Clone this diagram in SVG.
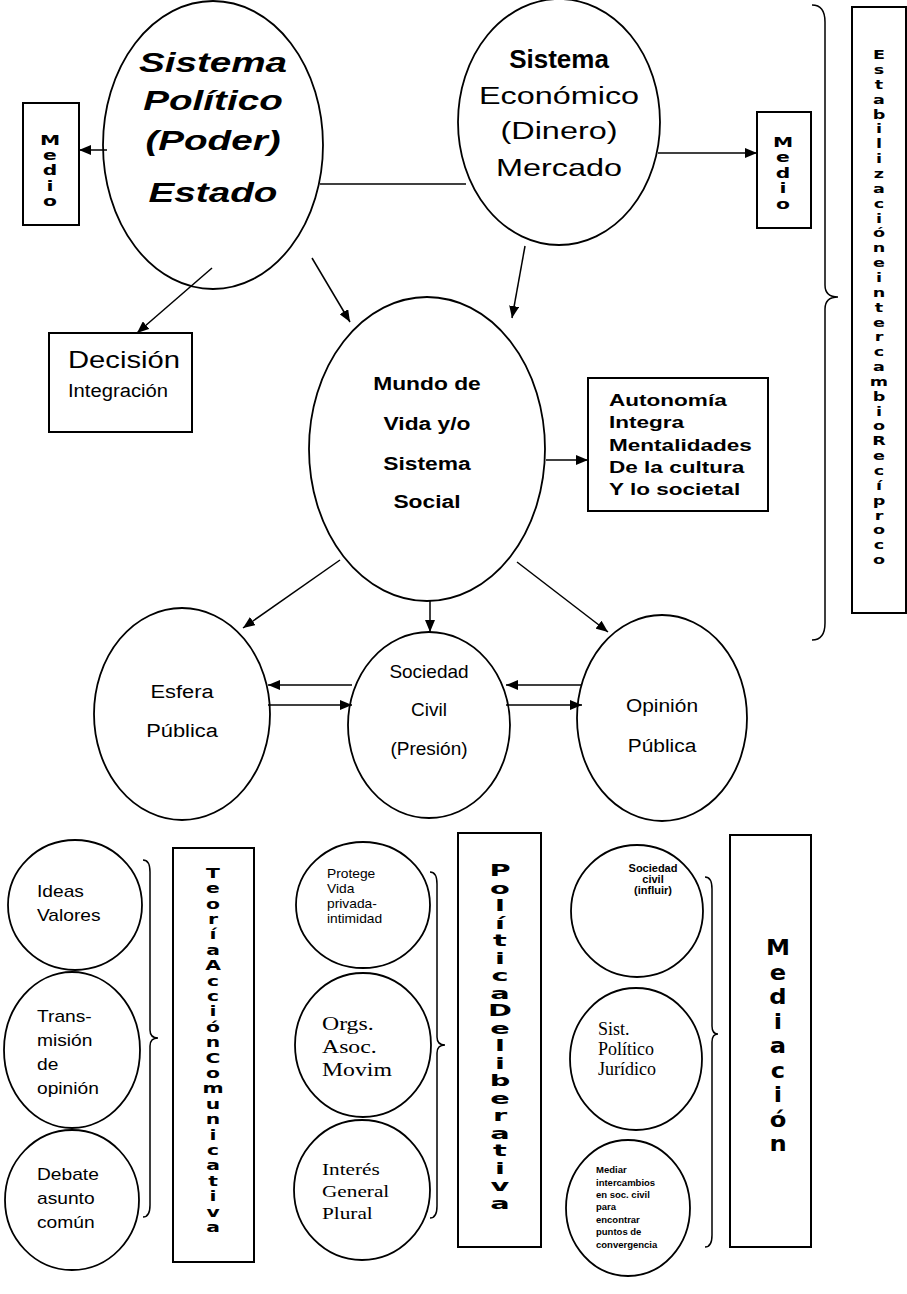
<svg xmlns="http://www.w3.org/2000/svg" width="907" height="1294" viewBox="0 0 907 1294">
<style>
.shape{fill:none;stroke:#000;stroke-width:1.8}
.box{fill:#fff;stroke:#000;stroke-width:2}
.con{fill:none;stroke:#000;stroke-width:1.5}
.brace{fill:none;stroke:#000;stroke-width:1.5}
.sans{font-family:"Liberation Sans",Arial,sans-serif;fill:#000}
.serif{font-family:"Liberation Serif","Times New Roman",serif;fill:#000}
.stack{font-family:"DejaVu Sans","Liberation Sans",Arial,sans-serif;font-weight:bold;fill:#000;text-anchor:middle;dominant-baseline:central}
</style>
<defs>
<marker id="ah" viewBox="0 0 12 10" refX="12" refY="5" markerWidth="12" markerHeight="10" orient="auto" markerUnits="userSpaceOnUse">
<path d="M0,0 L12,5 L0,10 z" fill="#000"/>
</marker>
</defs>
<rect width="907" height="1294" fill="#fff"/>

<g id="connectors">
<line class="con" x1="107" y1="150" x2="79" y2="150" marker-end="url(#ah)"/>
<line class="con" x1="658" y1="153" x2="757" y2="153" marker-end="url(#ah)"/>
<line class="con" x1="320" y1="184" x2="466" y2="184"/>
<line class="con" x1="212" y1="268" x2="137" y2="333" marker-end="url(#ah)"/>
<line class="con" x1="312" y1="258" x2="350" y2="322" marker-end="url(#ah)"/>
<line class="con" x1="525" y1="246" x2="512" y2="318" marker-end="url(#ah)"/>
<line class="con" x1="546" y1="460" x2="588" y2="460" marker-end="url(#ah)"/>
<line class="con" x1="340" y1="560" x2="243" y2="628" marker-end="url(#ah)"/>
<line class="con" x1="430" y1="600" x2="430" y2="632" marker-end="url(#ah)"/>
<line class="con" x1="517" y1="562" x2="608" y2="632" marker-end="url(#ah)"/>
<line class="con" x1="352" y1="685" x2="268" y2="685" marker-end="url(#ah)"/>
<line class="con" x1="268" y1="705" x2="352" y2="705" marker-end="url(#ah)"/>
<line class="con" x1="582" y1="685" x2="506" y2="685" marker-end="url(#ah)"/>
<line class="con" x1="506" y1="705" x2="582" y2="705" marker-end="url(#ah)"/>
</g>

<g id="sistema-politico">
<ellipse class="shape" cx="213" cy="145" rx="110" ry="144"/>
<g transform="translate(213,0) scale(1.38,1) translate(-213,0)">
<text class="sans" text-anchor="middle" font-size="28" font-weight="bold" font-style="italic">
<tspan x="213" y="72">Sistema</tspan><tspan x="213" y="110">Político</tspan><tspan x="213" y="150">(Poder)</tspan><tspan x="213" y="202">Estado</tspan>
</text>
</g>
</g>

<g id="sistema-economico">
<ellipse class="shape" cx="559" cy="122" rx="101" ry="123"/>
<text class="sans" x="559" y="68" text-anchor="middle" font-size="26" font-weight="bold">Sistema</text>
<g transform="translate(559,0) scale(1.35,1) translate(-559,0)">
<text class="sans" text-anchor="middle" font-size="24">
<tspan x="559" y="104">Económico</tspan><tspan x="559" y="139">(Dinero)</tspan><tspan x="559" y="176">Mercado</tspan>
</text>
</g>
</g>

<g id="medio-izq">
<rect class="box" x="23" y="103" width="56" height="122"/>
<g transform="translate(50,0) scale(1.45,1) translate(-50,0)">
<text class="stack" font-size="14"><tspan x="50" y="140">M</tspan><tspan x="50" y="155">e</tspan><tspan x="50" y="170">d</tspan><tspan x="50" y="186">i</tspan><tspan x="50" y="201">o</tspan></text>
</g>
</g>

<g id="medio-der">
<rect class="box" x="757" y="112" width="54" height="116"/>
<g transform="translate(783,0) scale(1.45,1) translate(-783,0)">
<text class="stack" font-size="14"><tspan x="783" y="142">M</tspan><tspan x="783" y="157">e</tspan><tspan x="783" y="173">d</tspan><tspan x="783" y="188">i</tspan><tspan x="783" y="204">o</tspan></text>
</g>
</g>

<g id="estabilizacion">
<path class="brace" d="M812,5 Q825,5 825,22 L825,285 Q825,297 838,297 Q825,297 825,309 L825,623 Q825,640 812,640"/>
<rect class="box" x="852" y="7" width="54" height="606"/>
<g transform="translate(879,0) scale(1.35,1) translate(-879,0)">
<text class="stack" font-size="13"><tspan x="879" y="55">E</tspan><tspan x="879" y="69.85">s</tspan><tspan x="879" y="84.7">t</tspan><tspan x="879" y="99.55">a</tspan><tspan x="879" y="114.4">b</tspan><tspan x="879" y="129.25">i</tspan><tspan x="879" y="144.1">l</tspan><tspan x="879" y="158.95">i</tspan><tspan x="879" y="173.8">z</tspan><tspan x="879" y="188.65">a</tspan><tspan x="879" y="203.5">c</tspan><tspan x="879" y="218.35">i</tspan><tspan x="879" y="233.2">ó</tspan><tspan x="879" y="248.05">n</tspan><tspan x="879" y="262.9">e</tspan><tspan x="879" y="277.75">i</tspan><tspan x="879" y="292.6">n</tspan><tspan x="879" y="307.45">t</tspan><tspan x="879" y="322.3">e</tspan><tspan x="879" y="337.15">r</tspan><tspan x="879" y="352">c</tspan><tspan x="879" y="366.85">a</tspan><tspan x="879" y="381.7">m</tspan><tspan x="879" y="396.55">b</tspan><tspan x="879" y="411.4">i</tspan><tspan x="879" y="426.25">o</tspan><tspan x="879" y="441.1">R</tspan><tspan x="879" y="455.95">e</tspan><tspan x="879" y="470.8">c</tspan><tspan x="879" y="485.65">í</tspan><tspan x="879" y="500.5">p</tspan><tspan x="879" y="515.35">r</tspan><tspan x="879" y="530.2">o</tspan><tspan x="879" y="545.05">c</tspan><tspan x="879" y="559.9">o</tspan></text>
</g>
</g>

<g id="decision">
<rect class="box" x="49" y="333" width="143" height="99"/>
<text class="sans" x="68" y="368" font-size="24" textLength="112" lengthAdjust="spacingAndGlyphs">Decisión</text>
<text class="sans" x="68" y="397" font-size="18" textLength="100" lengthAdjust="spacingAndGlyphs">Integración</text>
</g>

<g id="mundo-de-vida">
<ellipse class="shape" cx="427" cy="449" rx="118" ry="152"/>
<g transform="translate(427,0) scale(1.2,1) translate(-427,0)">
<text class="sans" text-anchor="middle" font-size="19" font-weight="bold">
<tspan x="427" y="390">Mundo de</tspan><tspan x="427" y="430">Vida y/o</tspan><tspan x="427" y="470">Sistema</tspan><tspan x="427" y="508">Social</tspan>
</text>
</g>
</g>

<g id="autonomia">
<rect class="box" x="588" y="378" width="180" height="133"/>
<g transform="translate(609,0) scale(1.41,1) translate(-609,0)">
<text class="sans" font-size="16" font-weight="bold">
<tspan x="609" y="406">Autonomía</tspan><tspan x="609" y="428">Integra</tspan><tspan x="609" y="451">Mentalidades</tspan><tspan x="609" y="473">De la cultura</tspan><tspan x="609" y="495">Y lo societal</tspan>
</text>
</g>
</g>

<g id="esfera-publica">
<ellipse class="shape" cx="182" cy="714" rx="88" ry="106"/>
<g transform="translate(182,0) scale(1.15,1) translate(-182,0)">
<text class="sans" text-anchor="middle" font-size="19"><tspan x="182" y="698">Esfera</tspan><tspan x="182" y="737">Pública</tspan></text>
</g>
</g>

<g id="sociedad-civil">
<ellipse class="shape" cx="429" cy="725" rx="81" ry="93"/>
<text class="sans" text-anchor="middle" font-size="19"><tspan x="429" y="678">Sociedad</tspan><tspan x="429" y="716">Civil</tspan><tspan x="429" y="755">(Presión)</tspan></text>
</g>

<g id="opinion-publica">
<ellipse class="shape" cx="662" cy="718" rx="85" ry="103"/>
<g transform="translate(662,0) scale(1.1,1) translate(-662,0)">
<text class="sans" text-anchor="middle" font-size="19"><tspan x="662" y="712">Opinión</tspan><tspan x="662" y="752">Pública</tspan></text>
</g>
</g>

<g id="ideas-valores">
<ellipse class="shape" cx="75" cy="905" rx="67" ry="65"/>
<g transform="translate(37,0) scale(1.2,1) translate(-37,0)">
<text class="sans" font-size="16"><tspan x="37" y="897">Ideas</tspan><tspan x="37" y="921">Valores</tspan></text>
</g>
</g>
<g id="transmision">
<ellipse class="shape" cx="72" cy="1050" rx="68" ry="78"/>
<g transform="translate(37,0) scale(1.2,1) translate(-37,0)">
<text class="sans" font-size="16"><tspan x="37" y="1022">Trans-</tspan><tspan x="37" y="1046">misión</tspan><tspan x="37" y="1070">de</tspan><tspan x="37" y="1094">opinión</tspan></text>
</g>
</g>
<g id="debate">
<ellipse class="shape" cx="72" cy="1200" rx="67" ry="70"/>
<g transform="translate(37,0) scale(1.2,1) translate(-37,0)">
<text class="sans" font-size="16"><tspan x="37" y="1180">Debate</tspan><tspan x="37" y="1204">asunto</tspan><tspan x="37" y="1228">común</tspan></text>
</g>
</g>

<g id="teoria-accion">
<path class="brace" d="M143,860 Q150,860 150,872 L150,1030 Q150,1038 158,1038 Q150,1038 150,1046 L150,1205 Q150,1217 143,1217"/>
<rect class="box" x="173" y="848" width="81" height="414"/>
<g transform="translate(213,0) scale(1.45,1) translate(-213,0)">
<text class="stack" font-size="14"><tspan x="213" y="873">T</tspan><tspan x="213" y="888.4">e</tspan><tspan x="213" y="903.8">o</tspan><tspan x="213" y="919.2">r</tspan><tspan x="213" y="934.6">í</tspan><tspan x="213" y="950">a</tspan><tspan x="213" y="965.4">A</tspan><tspan x="213" y="980.8">c</tspan><tspan x="213" y="996.2">c</tspan><tspan x="213" y="1011.6">i</tspan><tspan x="213" y="1027">ó</tspan><tspan x="213" y="1042.4">n</tspan><tspan x="213" y="1057.8">C</tspan><tspan x="213" y="1073.2">o</tspan><tspan x="213" y="1088.6">m</tspan><tspan x="213" y="1104">u</tspan><tspan x="213" y="1119.4">n</tspan><tspan x="213" y="1134.8">i</tspan><tspan x="213" y="1150.2">c</tspan><tspan x="213" y="1165.6">a</tspan><tspan x="213" y="1181">t</tspan><tspan x="213" y="1196.4">i</tspan><tspan x="213" y="1211.8">v</tspan><tspan x="213" y="1227.2">a</tspan></text>
</g>
</g>

<g id="protege">
<ellipse class="shape" cx="363" cy="905" rx="67" ry="63"/>
<g transform="translate(327,0) scale(1.15,1) translate(-327,0)">
<text class="sans" font-size="12"><tspan x="327" y="878">Protege</tspan><tspan x="327" y="893">Vida</tspan><tspan x="327" y="908">privada-</tspan><tspan x="327" y="923">intimidad</tspan></text>
</g>
</g>
<g id="orgs">
<ellipse class="shape" cx="363" cy="1045" rx="68" ry="72"/>
<g transform="translate(322,0) scale(1.25,1) translate(-322,0)">
<text class="serif" font-size="19"><tspan x="322" y="1030">Orgs.</tspan><tspan x="322" y="1053">Asoc.</tspan><tspan x="322" y="1076">Movim</tspan></text>
</g>
</g>
<g id="interes">
<ellipse class="shape" cx="362" cy="1190" rx="68" ry="70"/>
<g transform="translate(322,0) scale(1.25,1) translate(-322,0)">
<text class="serif" font-size="17"><tspan x="322" y="1175">Interés</tspan><tspan x="322" y="1197">General</tspan><tspan x="322" y="1219">Plural</tspan></text>
</g>
</g>

<g id="politica-deliberativa">
<path class="brace" d="M430,872 Q437,872 437,884 L437,1037 Q437,1045 445,1045 Q437,1045 437,1053 L437,1206 Q437,1218 430,1218"/>
<rect class="box" x="458" y="833" width="83" height="414"/>
<g transform="translate(500,0) scale(1.8,1) translate(-500,0)">
<text class="stack" font-size="16"><tspan x="500" y="870">P</tspan><tspan x="500" y="887.5">o</tspan><tspan x="500" y="905">l</tspan><tspan x="500" y="922.5">í</tspan><tspan x="500" y="940">t</tspan><tspan x="500" y="957.5">i</tspan><tspan x="500" y="975">c</tspan><tspan x="500" y="992.5">a</tspan><tspan x="500" y="1010">D</tspan><tspan x="500" y="1027.5">e</tspan><tspan x="500" y="1045">l</tspan><tspan x="500" y="1062.5">i</tspan><tspan x="500" y="1080">b</tspan><tspan x="500" y="1097.5">e</tspan><tspan x="500" y="1115">r</tspan><tspan x="500" y="1132.5">a</tspan><tspan x="500" y="1150">t</tspan><tspan x="500" y="1167.5">i</tspan><tspan x="500" y="1185">v</tspan><tspan x="500" y="1202.5">a</tspan></text>
</g>
</g>

<g id="sociedad-civil-influir">
<ellipse class="shape" cx="637" cy="911" rx="66" ry="66"/>
<text class="sans" font-size="11" font-weight="bold" text-anchor="middle"><tspan x="653" y="872">Sociedad</tspan><tspan x="653" y="883">civil</tspan><tspan x="653" y="894">(influir)</tspan></text>
</g>
<g id="sist-politico-juridico">
<ellipse class="shape" cx="636" cy="1059" rx="66" ry="71"/>
<text class="serif" font-size="18"><tspan x="598" y="1035">Sist.</tspan><tspan x="598" y="1055">Político</tspan><tspan x="598" y="1075">Jurídico</tspan></text>
</g>
<g id="mediar">
<ellipse class="shape" cx="628" cy="1208" rx="62" ry="68"/>
<text class="sans" font-size="9.5" font-weight="bold"><tspan x="596" y="1173">Mediar</tspan><tspan x="596" y="1186">intercambios</tspan><tspan x="596" y="1198">en soc. civil</tspan><tspan x="596" y="1210">para</tspan><tspan x="596" y="1223">encontrar</tspan><tspan x="596" y="1235">puntos de</tspan><tspan x="596" y="1248">convergencia</tspan></text>
</g>

<g id="mediacion">
<path class="brace" d="M705,877 Q712,877 712,889 L712,1026 Q712,1034 718,1034 Q712,1034 712,1042 L712,1235 Q712,1247 705,1247"/>
<rect class="box" x="730" y="835" width="81" height="412"/>
<g transform="translate(778,0) scale(1.15,1) translate(-778,0)">
<text class="stack" font-size="21"><tspan x="778" y="948">M</tspan><tspan x="778" y="972.5">e</tspan><tspan x="778" y="997">d</tspan><tspan x="778" y="1021.5">i</tspan><tspan x="778" y="1046">a</tspan><tspan x="778" y="1070.5">c</tspan><tspan x="778" y="1095">i</tspan><tspan x="778" y="1119.5">ó</tspan><tspan x="778" y="1144">n</tspan></text>
</g>
</g>
</svg>
